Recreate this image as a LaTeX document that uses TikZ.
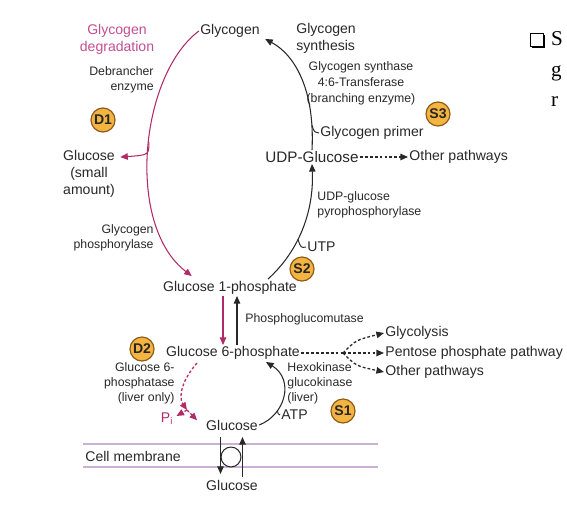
\documentclass[tikz,border=0pt]{standalone}
\usepackage{fontspec}
\setmainfont{Liberation Sans}
\newfontfamily\slidefont{Liberation Serif}
\usetikzlibrary{arrows.meta,calc}

\definecolor{degrade}{RGB}{178,42,104}
\definecolor{degtitle}{RGB}{196,78,146}
\definecolor{ink}{RGB}{40,40,40}
\definecolor{badgefill}{RGB}{243,180,66}
\definecolor{badgeline}{RGB}{140,90,20}
\definecolor{membrane}{RGB}{205,176,214}

\tikzset{
  metab/.style={inner sep=1pt, text=ink, align=center, font=\fontsize{12}{14.5}\selectfont},
  enzyme/.style={inner sep=1pt, text=ink, font=\fontsize{10.5}{12.8}\selectfont},
  badge/.style={circle, draw=badgeline, fill=badgefill, line width=1pt, inner sep=0pt,
    minimum size=20.5pt, text=black!85, font=\bfseries\fontsize{12}{12}\selectfont},
  tipA/.style={-{Triangle[length=6.5pt,width=5.5pt]}},
  synth/.style={tipA, draw=ink, line width=0.9pt},
  degr/.style={tipA, draw=degrade, fill=degrade, line width=0.9pt},
  dotted line/.style={dash pattern=on 2.4pt off 1.8pt, line width=1.1pt},
  hook/.style={draw=ink, line width=0.8pt},
}

\begin{document}
\begin{tikzpicture}[x=0.03cm, y=-0.03cm]
\useasboundingbox (0,0) rectangle (567,507);

% metabolites
\node[metab] (glycogen) at (230,31) {Glycogen};
\node[metab] (g1p) at (230,288) {Glucose 1-phosphate};
\node[metab, font=\fontsize{13}{15}\selectfont] (udpg) at (312,157) {UDP-Glucose};
\node[metab] (g6p) at (233,353) {Glucose 6-phosphate};
\node[metab] (glcin) at (232,425) {Glucose};
\node[metab] (glcout) at (232,485) {Glucose};
\node[metab] (glcsmall) at (89,174) {Glucose\\(small\\amount)};

% headings and enzymes
\node[metab, text=degtitle] (degtitle) at (117,39) {Glycogen\\degradation};
\node[metab, align=left, anchor=west] (syntitle) at (295,38) {Glycogen\\synthesis};
\node[enzyme, align=right, anchor=east] (debranch) at (155,80) {Debrancher\\enzyme};
\node[enzyme, align=right, anchor=east] (phosph) at (155,238) {Glycogen\\phosphorylase};
\node[enzyme, align=center, font=\fontsize{10.5}{13.6}\selectfont] (synthase) at (361,83)
  {Glycogen synthase\\4:6-Transferase\\(branching enzyme)};
\node[metab, anchor=west] (primer) at (319,133) {Glycogen primer};
\node[enzyme, align=left, anchor=west] (udpase) at (316,205) {UDP-glucose\\pyrophosphorylase};
\node[metab, anchor=west] (utp) at (306,247) {UTP};
\node[enzyme, anchor=west] (mutase) at (244,319) {Phosphoglucomutase};
\node[enzyme, align=right, anchor=east] (g6pase) at (176,383) {Glucose 6-\\phosphatase\\(liver only)};
\node[enzyme, align=left, anchor=west] (hexo) at (286,383) {Hexokinase\\glucokinase\\(liver)};
\node[metab, anchor=west] (atp) at (280,415) {ATP};
\node[metab, text=degrade] (pi) at (167,419) {P\textsubscript{i}};

% other pathways
\node[metab, anchor=west] (otherA) at (408,157) {Other pathways};
\node[metab, anchor=west] (glycolysis) at (384,333) {Glycolysis};
\node[metab, anchor=west] (ppp) at (384,353) {Pentose phosphate pathway};
\node[metab, anchor=west] (otherB) at (384,372) {Other pathways};

% badges
\node[badge] (d1) at (103,120) {D1};
\node[badge] (d2) at (142,349) {D2};
\node[badge] (s1) at (343,411) {S1};
\node[badge] (s2) at (302,269) {S2};
\node[badge] (s3) at (438,114) {S3};

% degradation
\draw[degr, fill=none] (glycogen.west) .. controls (140,75) and (125,225) .. ($(g1p.north west)+(30,-4)$)
  coordinate[pos=0.47] (split1);
\draw[degr, fill=none] (split1) .. controls (149,155) .. ($(glcsmall.north east)+(4,8)$);
\draw[degr] ($(g1p.south)+(-7,0)$) -- ($(g6p.north)+(-10,0)$);
\draw[degr, fill=none, dotted line] ($(g6p.south)+(-36,2)$) .. controls (178,385) and (180,400) .. (187,410)
  coordinate (split2);
\draw[degr, dotted line, tipA] (split2) -- ($(pi.east)+(2,-3)$);
\draw[degr, dotted line, tipA, shorten >=2pt] (split2) -- ($(glcin.west)+(-6,-3)$);

% synthesis
\draw[synth] ($(g6p.north)+(4,0)$) -- ($(g1p.south)+(7,0)$);
\draw[synth] (glcin.east) .. controls (285,415) and (295,380) .. ($(g6p.south)+(33,1)$)
  coordinate[pos=0.3] (atpjoin);
\draw[hook] (atpjoin) .. controls (278,414) .. (atp.west);
\draw[synth] ($(g1p.north)+(38,-1)$) .. controls (300,250) and (314,210) .. (udpg.south)
  coordinate[pos=0.4] (utpjoin);
\draw[hook] (utpjoin) .. controls (301,248) .. (utp.west);
\draw[synth] (udpg.north) .. controls (315,90) and (295,55) .. ($(glycogen.south east)+(4,0)$)
  coordinate[pos=0.15] (primerjoin);
\draw[hook] (primerjoin) .. controls (314,132) .. (primer.west);

% branches to other pathways
\draw[synth, dotted line] (udpg.east) -- (otherA.west);
\coordinate (fork) at (343,353);
\draw[ink, dotted line] (g6p.east) -- (fork);
\draw[synth, dotted line] (fork) .. controls (356,340) .. (glycolysis.west);
\draw[synth, dotted line] (fork) -- (ppp.west);
\draw[synth, dotted line] (fork) .. controls (356,366) .. (otherB.west);

% cell membrane
\draw[membrane, line width=2.5pt] (83,444) -- (378,444);
\draw[membrane, line width=2.5pt] (83,467) -- (378,467);
\node[metab, anchor=west] (cellmem) at (84,456) {Cell membrane};
\node[circle, draw=ink, fill=white, line width=0.9pt, minimum size=17pt, inner sep=0pt] (carrier) at (231,457) {};
\draw[synth] ($(carrier.west)+(0,-20)$) -- ($(carrier.west)+(0,17)$);
\draw[synth] ($(carrier.east)+(1,20)$) -- ($(carrier.east)+(1,-20)$);

% slide text at the edge
\fill[black] (532,35) rectangle (545,48);
\draw[black, fill=white, line width=0.6pt] (530,33) rectangle (543,46);
\node[anchor=base west, inner sep=0pt, font=\slidefont\fontsize{18}{18}\selectfont] (slideS) at (551,45) {S};
\node[anchor=base west, inner sep=0pt, font=\slidefont\fontsize{18}{18}\selectfont] (slideG) at (551,76) {g};
\node[anchor=base west, inner sep=0pt, font=\slidefont\fontsize{18}{18}\selectfont] (slideR) at (551,106) {r};
\end{tikzpicture}
\end{document}
